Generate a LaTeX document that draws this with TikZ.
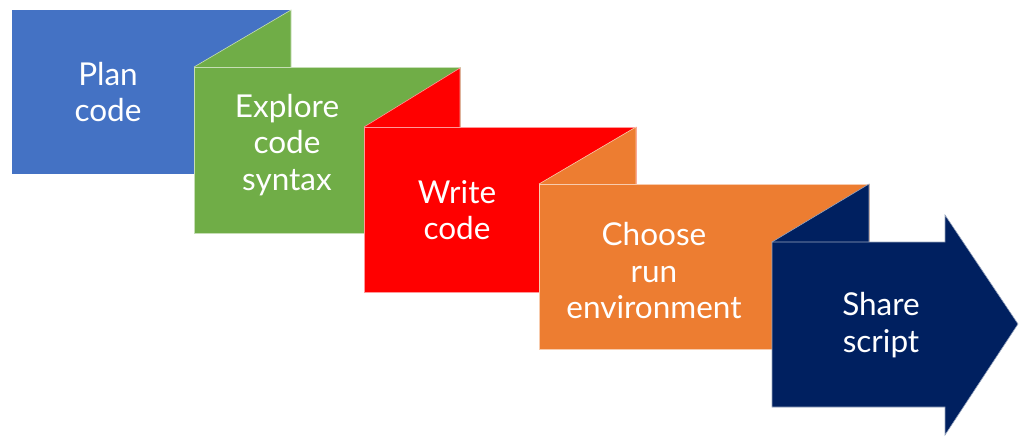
\documentclass[tikz,border=0pt]{standalone}
\usepackage{fontspec}
\setmainfont{Lato}
\definecolor{cblue}{HTML}{4472C4}
\definecolor{cgreen}{HTML}{70AD47}
\definecolor{cred}{HTML}{FF0000}
\definecolor{corange}{HTML}{ED7D31}
\definecolor{cnavy}{HTML}{002060}
\begin{document}
\begin{tikzpicture}[x=1pt,y=-1pt,
  panel/.style={line width=0.6pt, line join=miter},
  lbl/.style={text=white, align=center, font=\fontsize{31.5}{36.5}\selectfont, inner sep=0pt}]
\useasboundingbox (0,0) rectangle (1026,441);
% blue
\fill[cblue] (12,10) rectangle (291,174);
% green fold and panel
\filldraw[panel, fill=cgreen, draw=cgreen!40!white] (194,67) -- (291,10) -- (291,67);
\filldraw[panel, fill=cgreen, draw=cgreen!40!white] (194,67) rectangle (460,233);
% red
\filldraw[panel, fill=cred, draw=cred!40!white] (364,127) -- (460,68) -- (460,127);
\filldraw[panel, fill=cred, draw=cred!40!white] (364,127) rectangle (636,292);
% orange
\filldraw[panel, fill=corange, draw=corange!40!white] (539,184) -- (636,127) -- (636,184);
\filldraw[panel, fill=corange, draw=corange!40!white] (539,184) rectangle (869,349);
% navy
\filldraw[panel, fill=cnavy, draw=cnavy!40!white] (772,242) -- (869,184) -- (869,242);
\filldraw[panel, fill=cnavy, draw=cnavy!40!white] (772,242) -- (945,242) -- (945,215) -- (1018,324) -- (945,435) -- (945,407) -- (772,407) -- cycle;
% labels
\node[lbl] (plan) at (108,92) {Plan\\code};
\node[lbl] (explore) at (287,145) {Explore\\code\\syntax};
\node[lbl] (write) at (457,210) {Write\\code};
\node[lbl] (choose) at (654,271) {Choose\\run\\environment};
\node[lbl] (share) at (881,325) {Share\\script};
\end{tikzpicture}
\end{document}
